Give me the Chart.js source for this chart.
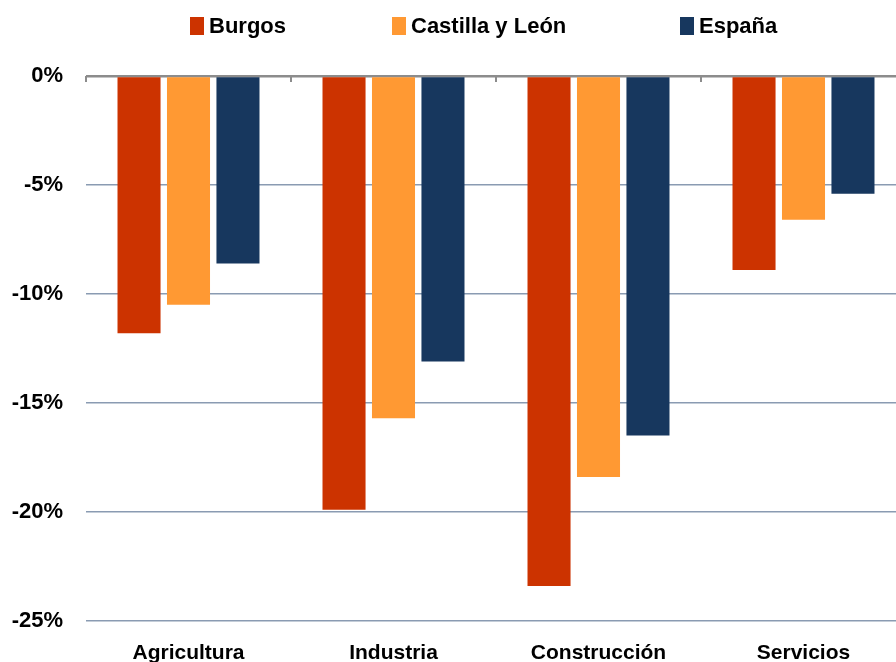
<!DOCTYPE html>
<html>
<head>
<meta charset="utf-8">
<script src="https://cdn.jsdelivr.net/npm/chart.js@4.4.1/dist/chart.umd.min.js"></script>
<style>
  body { margin: 0; overflow: hidden; background: #fff; width: 896px; height: 662px; position: relative; }
  #wrap { position: absolute; left: 0; top: 0; width: 972px; height: 700px; }
  #legend { position: absolute; left: 0; top: 13px; width: 896px; height: 30px;
    font-family: "Liberation Sans", Arial, sans-serif; font-weight: bold; font-size: 22px; color: #000; }
  #legend .item { position: absolute; top: 0; display: flex; align-items: center; }
  #legend .box { width: 14px; height: 18px; margin-right: 5px; }
</style>
</head>
<body>
<div id="wrap"><canvas id="chart" width="972" height="700"></canvas></div>
<div id="legend"></div>
<script>
const categories = ["Agricultura", "Industria", "Construcción", "Servicios"];
const seriesNames = ["Burgos", "Castilla y León", "España"];
const burgos = [-11.8, -19.9, -23.4, -8.9];
const castilla = [-10.5, -15.7, -18.4, -6.6];
const espana = [-8.6, -13.1, -16.5, -5.4];
const yTicks = [0, -5, -10, -15, -20, -25];
const colors = ["#cc3300", "#ff9933", "#17375e"];

const seriesData = [burgos, castilla, espana];
const legendLeft = [190, 392, 680];

// leyenda en HTML
const legend = document.getElementById("legend");
seriesNames.forEach(function (name, i) {
  const item = document.createElement("div");
  item.className = "item";
  item.style.left = legendLeft[i] + "px";
  const box = document.createElement("span");
  box.className = "box";
  box.style.background = colors[i];
  const txt = document.createElement("span");
  txt.textContent = name;
  item.appendChild(box);
  item.appendChild(txt);
  legend.appendChild(item);
});

// marcas pequeñas en la línea del cero
const zeroTicks = {
  id: "zeroTicks",
  afterDraw(chart) {
    const x = chart.scales.x;
    const y = chart.scales.y;
    const ctx = chart.ctx;
    const y0 = y.getPixelForValue(0);
    const step = x.width / categories.length;
    ctx.save();
    ctx.strokeStyle = "#8c8c8c";
    ctx.lineWidth = 2;
    for (let i = 0; i <= categories.length; i++) {
      const px = Math.round(x.left + i * step);
      ctx.beginPath();
      ctx.moveTo(px, y0);
      ctx.lineTo(px, y0 + 6);
      ctx.stroke();
    }
    ctx.restore();
  },
};

new Chart(document.getElementById("chart").getContext("2d"), {
  type: "bar",
  data: {
    labels: categories,
    datasets: seriesNames.map(function (name, i) {
      return {
        label: name,
        data: seriesData[i],
        backgroundColor: colors[i],
        categoryPercentage: 0.724,
        barPercentage: 0.87,
      };
    }),
  },
  options: {
    responsive: false,
    animation: false,
    layout: { padding: { top: 76, left: 12, right: 66, bottom: 14 } },
    plugins: {
      legend: { display: false },
      tooltip: { enabled: false },
    },
    scales: {
      x: {
        grid: { display: false, drawTicks: false },
        border: { display: false },
        afterFit: function (axis) {
          axis.paddingLeft = 0;
          axis.paddingRight = 0;
        },
        ticks: {
          padding: 20,
          maxRotation: 0,
          minRotation: 0,
          autoSkip: false,
          color: "#000",
          font: { family: "'Liberation Sans', Arial, sans-serif", size: 21, weight: "bold" },
        },
      },
      y: {
        min: -25,
        max: 0,
        afterBuildTicks: function (axis) {
          axis.ticks = yTicks.map(function (v) { return { value: v }; });
        },
        afterFit: function (axis) {
          axis.width = 74;
        },
        border: { display: false },
        grid: {
          drawTicks: false,
          color: function (c) { return c.tick.value === 0 ? "#8c8c8c" : "#8a9bb2"; },
          lineWidth: function (c) { return c.tick.value === 0 ? 2.5 : 1.5; },
        },
        ticks: {
          padding: 23,
          color: "#000",
          font: { family: "'Liberation Sans', Arial, sans-serif", size: 22, weight: "bold" },
          callback: function (v) { return v + "%"; },
        },
      },
    },
  },
  plugins: [zeroTicks],
});
</script>
</body>
</html>
